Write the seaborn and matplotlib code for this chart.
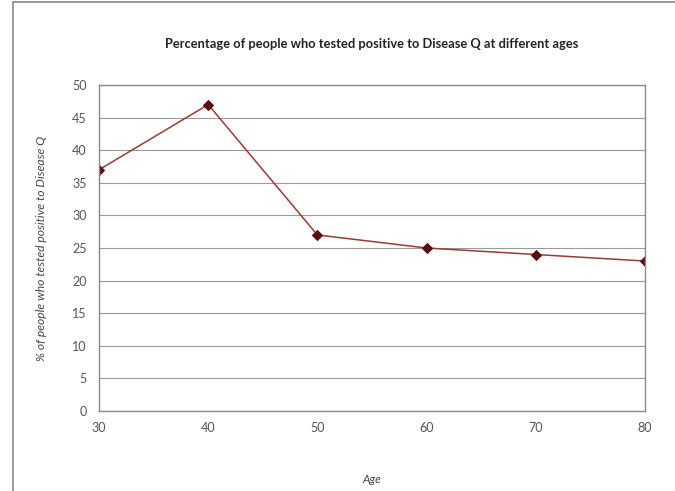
"""Line chart: share of people testing positive to Disease Q by age."""

import matplotlib.pyplot as plt
import numpy as np
import pandas as pd
import seaborn as sns

ages = [30, 40, 50, 60, 70, 80]
pct_positive = [37, 47, 27, 25, 24, 23]
y_ticks = [0, 5, 10, 15, 20, 25, 30, 35, 40, 45, 50]

df = pd.DataFrame({'Age': ages, 'Pct': pct_positive})

sns.set_theme(style='white')
plt.rcParams['font.family'] = ['Lato', 'DejaVu Sans']

fig = plt.figure(figsize=(6.75, 4.91), dpi=100)
ax = fig.add_axes([99/675, 1 - 411/491, 546/675, 326/491])

sns.lineplot(data=df, x='Age', y='Pct', ax=ax, color='#9a3b30', linewidth=1.1,
             marker='D', markersize=5, markerfacecolor='#5c0d0d',
             markeredgecolor='#5c0d0d')

ax.set_xlim(30, 80)
ax.set_ylim(0, 50)
ax.set_xticks(ages)
ax.set_yticks(y_ticks)
ax.yaxis.grid(True, color='#9a9a9a', linewidth=0.8)
ax.set_axisbelow(True)
for s in ax.spines.values():
    s.set_color('#8a8a8a')
    s.set_linewidth(1.0)
ax.tick_params(axis='both', colors='#8a8a8a', labelcolor='#555555',
               labelsize=9, length=4, width=0.8, direction='out')
ax.tick_params(axis='x', pad=4)
ax.tick_params(axis='y', pad=5)

ax.set_title('Percentage of people who tested positive to Disease Q at different ages',
             fontsize=9.3, fontweight='bold', color='#222222', pad=27)
ax.set_xlabel('Age', fontsize=8.5, style='italic', color='#444444', labelpad=29)
ax.set_ylabel('% of people who tested positive to Disease Q', fontsize=8.7,
              style='italic', color='#444444', labelpad=18)

# outer chart frame (left and top edges only visible)
fig.add_artist(plt.Line2D([13/675, 13/675], [0, 1 - 2/491], color='#8a8a8a', lw=1.2))
fig.add_artist(plt.Line2D([13/675, 1], [1 - 2/491, 1 - 2/491], color='#8a8a8a', lw=1.2))

plt.savefig('out.png', dpi=100)
